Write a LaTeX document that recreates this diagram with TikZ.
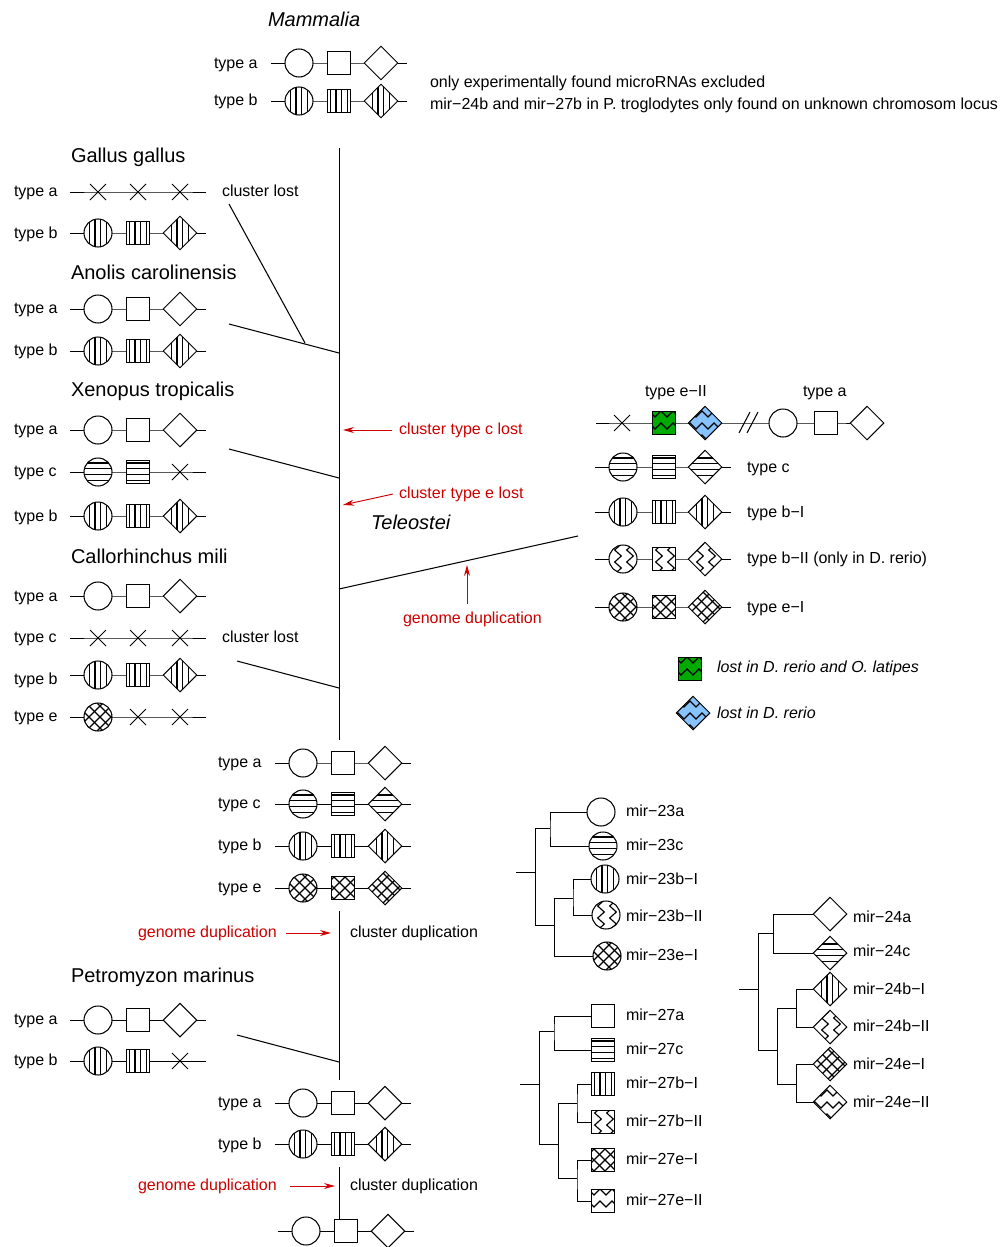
\documentclass[tikz,border=0pt]{standalone}
\usepackage{fontspec}
\setmainfont{Liberation Sans}
\usetikzlibrary{shapes.geometric,shapes.misc,arrows.meta,backgrounds}
\definecolor{lostgreen}{RGB}{0,170,0}
\definecolor{lostblue}{RGB}{135,196,255}
\definecolor{redlab}{RGB}{204,0,0}
\newcommand{\picshift}[1]{\begin{scope}[shift={(path picture bounding box.center)},line width=1.15pt]#1\end{scope}}
\tikzset{
 x=1pt,y=-1pt,
 every node/.style={inner sep=0pt,outer sep=0pt},
 gcirc/.style={circle,draw,fill=white,line width=1.05pt,minimum size=28pt},
 gsq/.style={rectangle,draw,fill=white,line width=1.05pt,minimum size=23pt},
 gdia/.style={diamond,draw,fill=white,line width=1.05pt,minimum size=33.5pt,aspect=1},
 crossm/.style={cross out,draw,line width=0.9pt,minimum size=16pt},
 hatchv/.style={path picture={\picshift{\foreach \v in {-8.7,-3,2.7,8.4} \draw (\v,-20)--(\v,20);}}},
 hatchh/.style={path picture={\picshift{\foreach \v in {-9,-3.3,2.4,8.1} \draw (-20,\v)--(20,\v);}}},
 zigv/.style={path picture={\picshift{\foreach \o in {-5,7} \draw (\o-3.3,-21)--(\o+3.3,-15)--(\o-3.3,-9)--(\o+3.3,-3)--(\o-3.3,3)--(\o+3.3,9)--(\o-3.3,15)--(\o+3.3,21);}}},
 zigh/.style={path picture={\picshift{\foreach \o in {-9,3,15} \draw (-21,\o+3)--(-15,\o-3)--(-9,\o+3)--(-3,\o-3)--(3,\o+3)--(9,\o-3)--(15,\o+3)--(21,\o-3);}}},
 hatchx/.style={path picture={\picshift{\foreach \v in {-42,-31,-20,-9,2,13,24,35} {\draw[line width=1.35pt] (\v-25,-25)--(\v+25,25); \draw[line width=1.35pt] (\v+25,-25)--(\v-25,25);}}}},
 wire/.style={line width=0.9pt},
 txt/.style={anchor=west,text height=14pt,text depth=2.6pt,font=\fontsize{16}{19}\selectfont},
 title/.style={anchor=west,text height=18pt,text depth=3.8pt,font=\fontsize{20}{24}\selectfont},
 ititle/.style={title,font=\fontsize{20}{24}\selectfont\itshape},
 redtxt/.style={txt,text=redlab},
 redarrow/.style={draw=redlab,line width=0.95pt,-{Stealth[length=11pt,width=6pt]}},
}
\newcommand{\row}[7][40]{%
 \coordinate (#2l) at (#3-28,#4);
 \coordinate (#2r) at (#3+108,#4);
 \node[#5] (#21) at (#3,#4) {};
 \node[#6] (#22) at (#3+#1,#4) {};
 \node[#7] (#23) at (#3+82,#4) {};
 \begin{scope}[on background layer]
 \draw[wire] (#2l) -- (#21.center) -- (#22.center) -- (#23.center) -- (#2r);
 \end{scope}
}
\newcommand{\lab}[5][txt]{\node[#1] (#2) at (#3,#4) {#5};}
\begin{document}
\begin{tikzpicture}
\useasboundingbox (0,0) rectangle (1005,1247);
% Mammalia
\lab[ititle]{tmam}{268}{19}{Mammalia}
\lab{lma}{214}{63}{type a}
\lab{lmb}{214}{100}{type b}
\row{ma}{299}{63}{gcirc}{gsq}{gdia}
\row{mb}{299}{101}{gcirc,hatchv}{gsq,hatchv}{gdia,hatchv}
\lab{note1}{430}{82}{only experimentally found microRNAs excluded}
\lab{note2}{430}{104}{mir−24b and mir−27b in P. troglodytes only found on unknown chromosom locus}
% Gallus
\lab[title]{tgal}{71}{155}{Gallus gallus}
\lab{lga}{14}{191}{type a}
\lab{lgb}{14}{233}{type b}
\lab{lgl}{222}{191}{cluster lost}
\row{ga}{98}{192}{crossm}{crossm}{crossm}
\row{gb}{98}{233}{gcirc,hatchv}{gsq,hatchv}{gdia,hatchv}
% Anolis
\lab[title]{tano}{71}{272}{Anolis carolinensis}
\lab{lana}{14}{308}{type a}
\lab{lanb}{14}{350}{type b}
\row{ana}{98}{309}{gcirc}{gsq}{gdia}
\row{anb}{98}{351}{gcirc,hatchv}{gsq,hatchv}{gdia,hatchv}
% Xenopus
\lab[title]{txen}{71}{389}{Xenopus tropicalis}
\lab{lxa}{14}{429}{type a}
\lab{lxc}{14}{471}{type c}
\lab{lxb}{14}{516}{type b}
\row{xa}{98}{430}{gcirc}{gsq}{gdia}
\row{xc}{98}{472}{gcirc,hatchh}{gsq,hatchh}{crossm}
\row{xb}{98}{516}{gcirc,hatchv}{gsq,hatchv}{gdia,hatchv}
% Callorhinchus
\lab[title]{tcal}{71}{556}{Callorhinchus mili}
\lab{lca}{14}{596}{type a}
\lab{lcc}{14}{637}{type c}
\lab{lcb}{14}{679}{type b}
\lab{lce}{14}{716}{type e}
\lab{lcl}{222}{637}{cluster lost}
\row{ca}{98}{596}{gcirc}{gsq}{gdia}
\row{cc}{98}{638}{crossm}{crossm}{crossm}
\row{cb}{98}{675}{gcirc,hatchv}{gsq,hatchv}{gdia,hatchv}
\row{ce}{98}{717}{gcirc,hatchx}{crossm}{crossm}
% middle
\lab{lva}{218}{762}{type a}
\lab{lvc}{218}{803}{type c}
\lab{lvb}{218}{845}{type b}
\lab{lve}{218}{887}{type e}
\row{va}{303}{763}{gcirc}{gsq}{gdia}
\row{vc}{303}{804}{gcirc,hatchh}{gsq,hatchh}{gdia,hatchh}
\row{vb}{303}{846}{gcirc,hatchv}{gsq,hatchv}{gdia,hatchv}
\row{ve}{303}{888}{gcirc,hatchx}{gsq,hatchx}{gdia,hatchx}
\lab[redtxt]{rgd1}{138}{932}{genome duplication}
\lab{lcd1}{350}{932}{cluster duplication}
% Petromyzon
\lab[title]{tpet}{71}{975}{Petromyzon marinus}
\lab{lpa}{14}{1019}{type a}
\lab{lpb}{14}{1060}{type b}
\row{pa}{98}{1020}{gcirc}{gsq}{gdia}
\row{pb}{98}{1061}{gcirc,hatchv}{gsq,hatchv}{crossm}
\lab{lwa}{218}{1102}{type a}
\lab{lwb}{218}{1144}{type b}
\row{wa}{303}{1103}{gcirc}{gsq}{gdia}
\row{wb}{303}{1144}{gcirc,hatchv}{gsq,hatchv}{gdia,hatchv}
\lab[redtxt]{rgd2}{138}{1185}{genome duplication}
\lab{lcd2}{350}{1185}{cluster duplication}
\row{za}{306}{1231}{gcirc}{gsq}{gdia}
% trunk
\coordinate (t1) at (339,148); \coordinate (t2) at (339,740);
\coordinate (t3) at (339,911); \coordinate (t4) at (339,1080);
\coordinate (t5) at (339,1167); \coordinate (t6) at (339,1220);
\draw[wire] (t1) -- (t2);
\draw[wire] (t3) -- (t4);
\draw[wire] (t5) -- (t6);
\coordinate (b1a) at (229,204); \coordinate (b1b) at (305,343);
\coordinate (b2a) at (229,324); \coordinate (b2b) at (339,353);
\coordinate (b3a) at (229,449); \coordinate (b3b) at (339,478);
\coordinate (b4a) at (578,536); \coordinate (b4b) at (339,589);
\coordinate (b5a) at (237,661); \coordinate (b5b) at (339,688);
\coordinate (b6a) at (237,1035); \coordinate (b6b) at (339,1062);
\foreach \n in {1,...,6} \draw[line width=1.05pt] (b\n a) -- (b\n b);
% red
\lab[redtxt]{rc}{399}{429}{cluster type c lost}
\lab[redtxt]{re}{399}{493}{cluster type e lost}
\lab[redtxt]{rg}{403}{618}{genome duplication}
\lab[ititle]{ttel}{371}{522}{Teleostei}
\coordinate (a1) at (343,430); \coordinate (a2) at (343,505);
\coordinate (a3) at (467,565); \coordinate (a4) at (331,933); \coordinate (a5) at (335,1186);
\coordinate (a6) at (286,933); \coordinate (a7) at (290,1186);
\draw[redarrow] (rc.west)++(-7,1) -- (a1);
\draw[redarrow] (re.west)++(-6,1) -- (a2);
\draw[redarrow] (rg.west -| a3)++(0,-14) -- (a3);
\draw[redarrow] (a6) -- (a4);
\draw[redarrow] (a7) -- (a5);
% teleost top row
\lab{lte}{645}{391}{type e−II}
\lab{lta}{803}{391}{type a}
\coordinate (tl) at (596,423); \coordinate (m1) at (739,433); \coordinate (m2) at (750,412);
\coordinate (m3) at (747,433); \coordinate (m4) at (758,412);
\node[crossm] (ux) at (622,423) {};
\node[gsq,fill=lostgreen,zigh] (us) at (664,423) {};
\node[gdia,fill=lostblue,zigh] (ud) at (705,423) {};
\node[gcirc] (uc2) at (783,423) {};
\node[gsq] (us2) at (826,423) {};
\node[gdia] (ud2) at (867,423) {};
\begin{scope}[on background layer]
\draw[wire] (tl) -- (ux.center) -- (us.center) -- (ud.center) -- (uc2.center) -- (us2.center) -- (ud2.center);
\end{scope}
\draw[line width=1.05pt] (m1) -- (m2);
\draw[line width=1.05pt] (m3) -- (m4);
\row[41]{tc}{623}{467}{gcirc,hatchh}{gsq,hatchh}{gdia,hatchh}
\row[41]{tb}{623}{512}{gcirc,hatchv}{gsq,hatchv}{gdia,hatchv}
\row[41]{tz}{623}{559}{gcirc,zigv}{gsq,zigv}{gdia,zigv}
\row[41]{tx}{623}{607}{gcirc,hatchx}{gsq,hatchx}{gdia,hatchx}
\lab{ltc}{747}{467}{type c}
\lab{ltb}{747}{512}{type b−I}
\lab{ltz}{747}{558}{type b−II (only in D. rerio)}
\lab{ltx}{747}{607}{type e−I}
% legend
\node[gsq,fill=lostgreen,zigh] (lgs) at (690,669) {};
\node[gdia,fill=lostblue,zigh] (lgd) at (693,713) {};
\lab{lg1}{717}{667}{\itshape lost in D. rerio and O. latipes}
\lab{lg2}{717}{713}{\itshape lost in D. rerio}
% tree 23
\node[gcirc] (c1) at (601,812) {};
\node[gcirc,hatchh] (c2) at (603,846) {};
\node[gcirc,hatchv] (c3) at (605,879) {};
\node[gcirc,zigv] (c4) at (606,915) {};
\node[gcirc,hatchx] (c5) at (607,956) {};
\lab{mc1}{626}{811}{mir−23a}
\lab{mc2}{626}{845}{mir−23c}
\lab{mc3}{626}{879}{mir−23b−I}
\lab{mc4}{626}{916}{mir−23b−II}
\lab{mc5}{626}{955}{mir−23e−I}
\coordinate (cr) at (516,872); \coordinate (cj) at (535,872);
\coordinate (cu) at (535,828); \coordinate (cd) at (535,925);
\coordinate (cu2) at (550,828); \coordinate (cd2) at (554,925);
\coordinate (ce2) at (554,898); \coordinate (ce3) at (573,898);
\draw[wire] (cr) -- (cj);
\draw[wire] (cu) -- (cd);
\draw[wire] (cu) -- (cu2);
\draw[wire] (cd) -- (cd2);
\draw[wire] (c1) -| (cu2) |- (c2);
\draw[wire] (ce2) -- (ce3);
\draw[wire] (ce2) |- (c5);
\draw[wire] (ce2) -- (cd2);
\draw[wire] (c3) -| (ce3) |- (c4);
% tree 27
\node[gsq] (s1) at (603,1016) {};
\node[gsq,hatchh] (s2) at (603,1050) {};
\node[gsq,hatchv] (s3) at (603,1084) {};
\node[gsq,zigv] (s4) at (603,1122) {};
\node[gsq,hatchx] (s5) at (603,1160) {};
\node[gsq,zigh] (s6) at (603,1201) {};
\lab{ms1}{626}{1015}{mir−27a}
\lab{ms2}{626}{1049}{mir−27c}
\lab{ms3}{626}{1083}{mir−27b−I}
\lab{ms4}{626}{1121}{mir−27b−II}
\lab{ms5}{626}{1159}{mir−27e−I}
\lab{ms6}{626}{1200}{mir−27e−II}
\coordinate (sr) at (520,1084); \coordinate (sj) at (539,1084);
\coordinate (su) at (539,1031); \coordinate (sd) at (539,1144);
\coordinate (su2) at (554,1031); \coordinate (sd2) at (558,1144);
\coordinate (sa) at (558,1103); \coordinate (sa2) at (577,1103);
\coordinate (sb) at (558,1178); \coordinate (sb2) at (577,1178);
\draw[wire] (sr) -- (sj);
\draw[wire] (su) -- (sd);
\draw[wire] (su) -- (su2);
\draw[wire] (sd) -- (sd2);
\draw[wire] (s1) -| (su2) |- (s2);
\draw[wire] (sa) -- (sb);
\draw[wire] (sa) -- (sa2);
\draw[wire] (sb) -- (sb2);
\draw[wire] (s3) -| (sa2) |- (s4);
\draw[wire] (s5) -| (sb2) |- (s6);
% tree 24
\node[gdia] (d1) at (830,914) {};
\node[gdia,hatchh] (d2) at (830,953) {};
\node[gdia,hatchv] (d3) at (830,989) {};
\node[gdia,zigv] (d4) at (830,1027) {};
\node[gdia,hatchx] (d5) at (830,1064) {};
\node[gdia,zigh] (d6) at (830,1102) {};
\lab{md1}{853}{917}{mir−24a}
\lab{md2}{853}{951}{mir−24c}
\lab{md3}{853}{989}{mir−24b−I}
\lab{md4}{853}{1026}{mir−24b−II}
\lab{md5}{853}{1064}{mir−24e−I}
\lab{md6}{853}{1102}{mir−24e−II}
\coordinate (dr) at (739,989); \coordinate (dj) at (758,989);
\coordinate (du) at (758,933); \coordinate (dd) at (758,1050);
\coordinate (du2) at (773,933); \coordinate (dd2) at (777,1050);
\coordinate (da) at (777,1008); \coordinate (da2) at (796,1008);
\coordinate (db) at (777,1084); \coordinate (db2) at (796,1084);
\draw[wire] (dr) -- (dj);
\draw[wire] (du) -- (dd);
\draw[wire] (du) -- (du2);
\draw[wire] (dd) -- (dd2);
\draw[wire] (d1) -| (du2) |- (d2);
\draw[wire] (da) -- (db);
\draw[wire] (da) -- (da2);
\draw[wire] (db) -- (db2);
\draw[wire] (d3) -| (da2) |- (d4);
\draw[wire] (d5) -| (db2) |- (d6);
\end{tikzpicture}
\end{document}
